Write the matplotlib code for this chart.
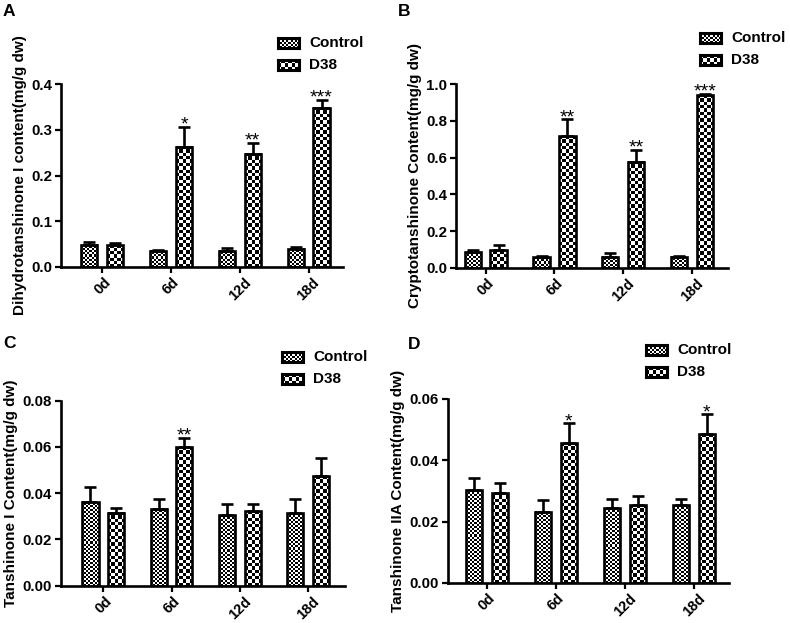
import numpy as np
import matplotlib
matplotlib.use("Agg")
import matplotlib.pyplot as plt

plt.rcParams['font.family'] = ['Liberation Sans', 'DejaVu Sans']
plt.rcParams['font.weight'] = 'bold'

W, H = 790, 623

# dados (mg/g dw)
dias = ['0d', '6d', '12d', '18d']

a_controle = [0.049, 0.035, 0.035, 0.0395]
a_controle_err = [0.005, 0.003, 0.007, 0.0045]
a_d38 = [0.0475, 0.263, 0.247, 0.348]
a_d38_err = [0.0055, 0.044, 0.025, 0.017]
a_sig = ['', '*', '**', '***']

b_controle = [0.084, 0.056, 0.060, 0.060]
b_controle_err = [0.012, 0.006, 0.020, 0.002]
b_d38 = [0.096, 0.718, 0.578, 0.942]
b_d38_err = [0.026, 0.091, 0.064, 0.005]
b_sig = ['', '**', '**', '***']

c_controle = [0.0364, 0.0333, 0.0304, 0.0314]
c_controle_err = [0.0061, 0.0041, 0.0051, 0.0060]
c_d38 = [0.0316, 0.0601, 0.0324, 0.0473]
c_d38_err = [0.0019, 0.0038, 0.0031, 0.0080]
c_sig = ['', '**', '', '']

d_controle = [0.0303, 0.0233, 0.0244, 0.0254]
d_controle_err = [0.0039, 0.0039, 0.0029, 0.0019]
d_d38 = [0.0295, 0.0455, 0.0254, 0.0485]
d_d38_err = [0.0030, 0.0066, 0.0030, 0.0065]
d_sig = ['', '*', '', '*']

legenda = ['Control', 'D38']
CELULA = {'Control': 2.0, 'D38': 3.3}  # tamanho do quadriculado em pixels


def px(x0, y0, x1, y1):
    # converte retângulo em pixels (origem no topo) para fração da figura
    return [x0 / W, 1 - y1 / H, (x1 - x0) / W, (y1 - y0) / H]


def xadrez(nx, ny):
    return np.add.outer(np.arange(ny), np.arange(nx)) % 2


def preencher_barras(ax, barras, celula):
    # desenha um quadriculado dentro de cada barra
    for r in barras:
        x0, x1 = r.get_x(), r.get_x() + r.get_width()
        y0, y1 = 0, r.get_height()
        p0 = ax.transData.transform((x0, y0))
        p1 = ax.transData.transform((x1, y1))
        nx = max(1, int(round(abs(p1[0] - p0[0]) / celula)))
        ny = max(1, int(round(abs(p1[1] - p0[1]) / celula)))
        ax.imshow(xadrez(nx, ny), extent=(x0, x1, y0, y1), origin='lower',
                  cmap='gray_r', vmin=0, vmax=1, interpolation='nearest',
                  aspect='auto', zorder=2)


def legenda_manual(fig, x, y_linhas, fonte=11):
    for nome, yc in zip(legenda, y_linhas):
        lax = fig.add_axes(px(x, yc - 5, x + 21, yc + 5))
        c = CELULA[nome]
        lax.imshow(xadrez(int(round(21 / c)), int(round(10 / c))), cmap='gray_r',
                   vmin=0, vmax=1, interpolation='nearest', aspect='auto')
        lax.set_xticks([])
        lax.set_yticks([])
        for s in lax.spines.values():
            s.set_linewidth(2.2)
        fig.text((x + 31) / W, 1 - yc / H, nome, fontsize=fonte,
                 fontweight='bold', va='center', ha='left')


def painel(fig, pos, xlim, controle, controle_err, d38, d38_err, sig,
           ymax, ystep, fmt, ylabel, letra, letra_pos, leg_x, leg_y):
    ax = fig.add_axes(px(*pos))
    x = np.arange(len(dias))
    larg = 0.235
    desloc = 0.188

    b1 = ax.bar(x - desloc, controle, larg, facecolor='none', edgecolor='black',
                linewidth=1.9, zorder=3)
    b2 = ax.bar(x + desloc, d38, larg, facecolor='none', edgecolor='black',
                linewidth=1.9, zorder=3)
    ax.set_xlim(*xlim)
    ax.set_ylim(0, ymax)
    preencher_barras(ax, b1, CELULA['Control'])
    preencher_barras(ax, b2, CELULA['D38'])

    zeros = np.zeros(len(dias))
    ax.errorbar(x - desloc, controle, yerr=[zeros, controle_err], fmt='none',
                ecolor='black', elinewidth=1.9, capsize=4, capthick=1.9, zorder=4)
    ax.errorbar(x + desloc, d38, yerr=[zeros, d38_err], fmt='none',
                ecolor='black', elinewidth=1.9, capsize=4, capthick=1.9, zorder=4)

    # asteriscos de significância
    for xi, v, e, s in zip(x + desloc, d38, d38_err, sig):
        if s:
            ax.annotate(s, (xi, v + e), xytext=(0, -2), textcoords='offset points',
                        ha='center', va='baseline', fontsize=14,
                        fontweight='normal', annotation_clip=False)

    ax.set_xlim(*xlim)
    ax.set_ylim(0, ymax)
    ticks = np.arange(0, ymax + ystep / 2, ystep)
    ax.set_yticks(ticks)
    ax.set_yticklabels([fmt % t for t in ticks])
    ax.set_xticks(x)
    ax.set_xticklabels(dias, rotation=45, ha='center')
    ax.tick_params(axis='both', width=1.6, length=4.5, labelsize=10.8, pad=2)
    ax.tick_params(axis='x', labelsize=10.5, pad=1.5)
    for lbl in ax.get_xticklabels() + ax.get_yticklabels():
        lbl.set_fontweight('bold')
    for lado in ['top', 'right']:
        ax.spines[lado].set_visible(False)
    for lado in ['left', 'bottom']:
        ax.spines[lado].set_linewidth(1.9)
    ax.set_ylabel(ylabel, fontsize=11, fontweight='bold', labelpad=3)

    fig.text(letra_pos[0] / W, 1 - letra_pos[1] / H, letra, fontsize=12.5,
             fontweight='bold', ha='left', va='baseline')
    legenda_manual(fig, leg_x, leg_y)
    return ax


fig = plt.figure(figsize=(W / 100, H / 100), dpi=100)

painel(fig, (61, 84, 343, 267), (-0.6, 3.5), a_controle, a_controle_err,
       a_d38, a_d38_err, a_sig, 0.4, 0.1, '%.1f',
       'Dihydrotanshinone I content(mg/g dw)', 'A', (3, 16), 278, (42.7, 65))
painel(fig, (456, 84.3, 728, 267.7), (-0.43, 3.52), b_controle, b_controle_err,
       b_d38, b_d38_err, b_sig, 1.0, 0.2, '%.1f',
       'Cryptotanshinone Content(mg/g dw)', 'B', (398, 16), 700, (38.3, 60))
painel(fig, (61, 400.7, 345, 585.7), (-0.62, 3.54), c_controle, c_controle_err,
       c_d38, c_d38_err, c_sig, 0.08, 0.02, '%.2f',
       'Tanshinone I Content(mg/g dw)', 'C', (3, 348), 282, (357.3, 379.3))
painel(fig, (448, 399, 729, 583), (-0.56, 3.51), d_controle, d_controle_err,
       d_d38, d_d38_err, d_sig, 0.06, 0.02, '%.2f',
       'Tanshinone IIA Content(mg/g dw)', 'D', (408, 349), 646, (350, 371.7))

fig.savefig('out.png', dpi=100)
